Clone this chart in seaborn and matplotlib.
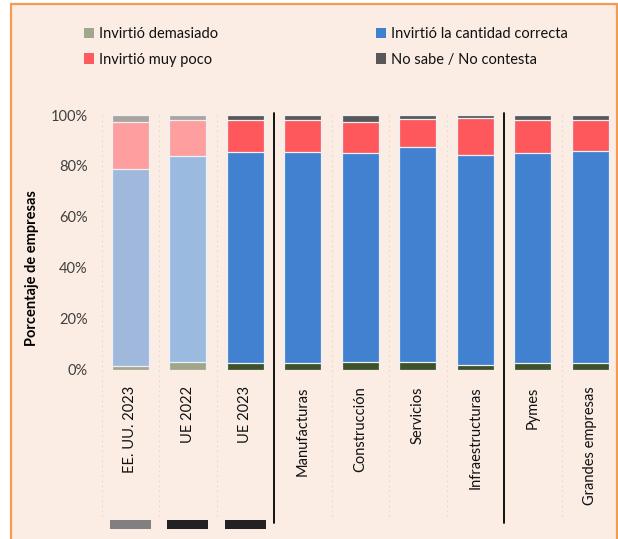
import matplotlib
matplotlib.use("Agg")
import matplotlib.pyplot as plt
from matplotlib.patches import Rectangle, Patch
import numpy as np
import pandas as pd
import seaborn as sns

categories = ["EE. UU. 2023", "UE 2022", "UE 2023", "Manufacturas", "Construcción",
              "Servicios", "Infraestructuras", "Pymes", "Grandes empresas"]
demasiado = [1.3, 2.8, 2.4, 2.4, 2.8, 2.9, 1.6, 2.5, 2.4]
correcta = [77.4, 81.0, 83.1, 82.9, 82.1, 84.6, 82.6, 82.5, 83.5]
muy_poco = [18.6, 14.2, 12.7, 12.7, 12.2, 11.0, 14.5, 13.2, 12.3]
no_sabe = [2.7, 2.0, 1.8, 2.0, 2.9, 1.5, 1.3, 1.8, 1.8]
y_ticks = [0, 20, 40, 60, 80, 100]
series_names = ["Invirtió demasiado", "Invirtió la cantidad correcta",
                "Invirtió muy poco", "No sabe / No contesta"]

sns.set_theme(style="white")
plt.rcParams["font.family"] = ["Lato", "DejaVu Sans"]

W, H = 618, 539
fig = plt.figure(figsize=(W / 100, H / 100), dpi=100)
fig.patch.set_facecolor("white")

# panel background with orange border
panel = Rectangle((11 / W, -0.05), (617 - 11) / W, 1 - 4 / H + 0.05,
                  transform=fig.transFigure, facecolor="#fcede4",
                  edgecolor="#f29b55", linewidth=1.6, zorder=-10)
fig.patches.append(panel)

ax_left, ax_right = 101.7, 619.2
y0, y100 = 369.5, 115.0
ax = fig.add_axes([ax_left / W, (H - y0) / H, (ax_right - ax_left) / W, (y0 - y100) / H])
ax.set_facecolor("none")

df = pd.DataFrame({"cat": categories, "d": demasiado, "c": correcta,
                   "m": muy_poco, "n": no_sabe})
df["t1"] = df["d"]
df["t2"] = df["d"] + df["c"]
df["t3"] = df["t2"] + df["m"]
df["t4"] = df["t3"] + df["n"]

full = {"t1": "#3d5228", "t2": "#4181d0", "t3": "#ff585c", "t4": "#58585a"}
faded1 = {"t1": "#a3a78d", "t2": "#a0b8dc", "t3": "#ff9e9e", "t4": "#aaa3a0"}
faded2 = {"t1": "#a0a68a", "t2": "#9abae0", "t3": "#ff9e9e", "t4": "#aaa3a0"}

for col in ["t4", "t3", "t2", "t1"]:
    pal = [faded1[col], faded2[col]] + [full[col]] * 7
    sns.barplot(data=df, x="cat", y=col, hue="cat", palette=pal, legend=False,
                width=0.645, edgecolor="#eef0f4", linewidth=0.9, ax=ax,
                order=categories, hue_order=categories, saturation=1)

ax.set_xlim(-0.5, 8.5)
ax.set_ylim(0, 100)
ax.set_yticks(y_ticks)
ax.set_yticklabels([f"{v}%" for v in y_ticks], fontsize=10.5, color="#404040")
ax.tick_params(axis="y", length=0, pad=10)
ax.tick_params(axis="x", length=0, pad=12)
ax.set_xticks(range(len(categories)))
ax.set_xticklabels(categories, rotation=90, fontsize=10.5, color="#111111",
                   va="top", ha="center")
for s in ax.spines.values():
    s.set_visible(False)
ax.set_xlabel("")
ax.set_ylabel("Porcentaje de empresas", fontsize=10.5, fontweight="bold", color="black")
ax.yaxis.set_label_coords((39 - ax_left) / (ax_right - ax_left), (y0 - 268) / (y0 - y100))

px = lambda p: (y0 - p) / (y0 - y100) * 100  # pixel row -> data y
# dotted category boundaries and solid separators
for b in range(9):
    xb = b - 0.5
    if b in (3, 7):
        ax.plot([xb, xb], [px(113), px(523)], color="black", lw=1.3,
                clip_on=False, zorder=5)
    elif b > 0:
        ax.plot([xb, xb], [px(115), px(519)], color="#e3d9d2", lw=0.8,
                ls=(0, (1.5, 3)), clip_on=False, zorder=0)
ax.plot([-0.5, -0.5], [px(115), px(519)], color="#e3d9d2", lw=0.8,
        ls=(0, (1.5, 3)), clip_on=False, zorder=0)

# small marker rectangles under the first three categories
rect_cols = ["#808080", "#222222", "#222222"]
for i, c in enumerate(rect_cols):
    ax.add_patch(Rectangle((i - 0.356, px(529)), 0.712, px(520) - px(529),
                           facecolor=c, edgecolor="none", clip_on=False))

handles = [Patch(facecolor="#a0a88c", edgecolor="none"),
           Patch(facecolor="#ff5a5e", edgecolor="none"),
           Patch(facecolor="#4080d0", edgecolor="none"),
           Patch(facecolor="#58585a", edgecolor="none")]
labels = [series_names[0], series_names[2], series_names[1], series_names[3]]
fig.legend(handles, labels, loc="upper left", bbox_to_anchor=(84 / W, 1 - 27 / H),
           ncol=2, frameon=False, fontsize=10.5, handlelength=0.7, handleheight=0.7,
           handletextpad=0.35, columnspacing=10.8, labelspacing=0.8, borderpad=0,
           borderaxespad=0, labelcolor="#111111")

fig.savefig("out.png", dpi=100)
